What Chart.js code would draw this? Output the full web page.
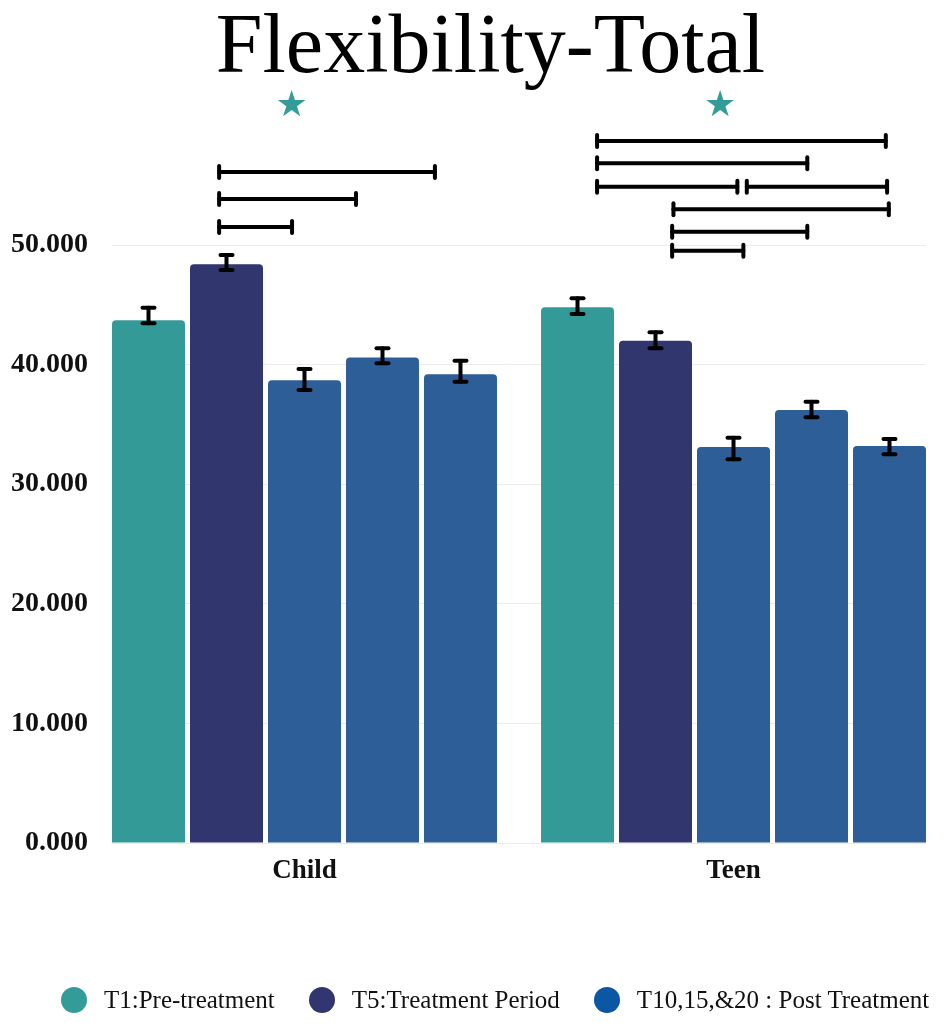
<!DOCTYPE html>
<html>
<head>
<meta charset="utf-8">
<script src="https://cdn.jsdelivr.net/npm/chart.js@4.4.1/dist/chart.umd.min.js"></script>
<style>
  html, body { margin: 0; padding: 0; background: #fff; }
  #wrap { position: relative; width: 945px; height: 1029px; }
  #title {
    position: absolute; left: 0; top: 2px; width: 945px; padding-left: 36px; box-sizing: border-box;
    text-align: center; font-family: 'Liberation Serif', serif; font-size: 84px; line-height: 84px; color: #000;
  }
  #legend {
    position: absolute; left: 0; top: 986px; width: 945px; height: 28px;
    display: flex; align-items: center; padding-left: 61px; box-sizing: border-box;
    font-family: 'Liberation Serif', serif; font-size: 25px; color: #111;
  }
  #legend .item { display: flex; align-items: center; margin-right: 34px; white-space: nowrap; }
  #legend .dot { width: 26px; height: 26px; border-radius: 50%; margin-right: 17px; }
</style>
</head>
<body>
<div id="wrap">
  <canvas id="flexChart"></canvas>
  <div id="title">Flexibility-Total</div>
  <div id="legend"></div>
</div>
<script>
// groups on the x axis
var groups = ['Child', 'Teen'];

// mean scores per time point (Child, Teen)
var meanT1 = [43.7, 44.8];
var meanT5 = [48.4, 42.0];
var meanT10 = [38.7, 33.1];
var meanT15 = [40.6, 36.2];
var meanT20 = [39.2, 33.2];

// error bar ends [low, high] (Child, Teen)
var errT1 = [[43.45, 44.76], [44.23, 45.54]];
var errT5 = [[47.91, 49.16], [41.36, 42.70]];
var errT10 = [[37.88, 39.63], [32.08, 33.89]];
var errT15 = [[40.11, 41.36], [35.59, 36.90]];
var errT20 = [[38.57, 40.33], [32.50, 33.78]];

var yTicks = [0, 10, 20, 30, 40, 50];

var seriesNames = ['T1:Pre-treatment', 'T5:Treatment Period', 'T10', 'T15', 'T20'];
var barColors = ['#349a97', '#32366e', '#2e5e98', '#2e5e98', '#2e5e98'];
var legendNames = ['T1:Pre-treatment', 'T5:Treatment Period', 'T10,15,&20 : Post Treatment'];
var legendColors = ['#349c98', '#313670', '#0b57a3'];

// significance brackets: [from, to, level] in axis units (0 = Child, 1 = Teen)
var bracketsChild = [[-0.199, -0.029, 51.5], [-0.199, 0.120, 53.85], [-0.199, 0.304, 56.1]];
var bracketsTeen = [[0.682, 1.355, 58.7], [0.682, 1.172, 56.83], [0.682, 1.009, 54.87],
                    [1.031, 1.358, 54.87], [0.860, 1.362, 52.98], [0.857, 1.172, 51.11],
                    [0.857, 1.023, 49.52]];
// stars: [x, level]
var stars = [[-0.03, 61.6], [0.969, 61.6]];

var means = [meanT1, meanT5, meanT10, meanT15, meanT20];
var errs = [errT1, errT5, errT10, errT15, errT20];

var datasets = means.map(function (vals, d) {
    return {
        label: seriesNames[d],
        data: vals.map(function (v, i) { return { x: i, y: v }; }),
        backgroundColor: barColors[d],
        borderWidth: 0,
        borderRadius: 4,
        borderSkipped: 'start',
        categoryPercentage: 0.909,
        barPercentage: 0.936
    };
});

// error bars, significance brackets and stars on top of the bars
var overlayPlugin = {
    id: 'overlay',
    afterDatasetsDraw: function (chart) {
        var ctx = chart.ctx;
        var xs = chart.scales.x, ys = chart.scales.y;

        function seg(x1, y1, x2, y2) {
            ctx.beginPath();
            ctx.moveTo(x1, y1);
            ctx.lineTo(x2, y2);
            ctx.stroke();
        }

        ctx.save();
        ctx.strokeStyle = '#000';
        ctx.lineWidth = 4;
        ctx.lineCap = 'round';

        errs.forEach(function (list, d) {
            var meta = chart.getDatasetMeta(d);
            list.forEach(function (e, i) {
                var x = meta.data[i].x;
                var lo = ys.getPixelForValue(e[0]);
                var hi = ys.getPixelForValue(e[1]);
                seg(x, lo, x, hi);
                seg(x - 6, lo, x + 6, lo);
                seg(x - 6, hi, x + 6, hi);
            });
        });

        bracketsChild.concat(bracketsTeen).forEach(function (b) {
            var x1 = xs.getPixelForValue(b[0]);
            var x2 = xs.getPixelForValue(b[1]);
            var y = ys.getPixelForValue(b[2]);
            seg(x1, y, x2, y);
            seg(x1, y - 6, x1, y + 6);
            seg(x2, y - 6, x2, y + 6);
        });

        ctx.fillStyle = '#349c98';
        ctx.font = '36px "DejaVu Sans"';
        ctx.textAlign = 'center';
        ctx.textBaseline = 'middle';
        stars.forEach(function (s) {
            ctx.fillText('\u2605', xs.getPixelForValue(s[0]), ys.getPixelForValue(s[1]));
        });
        ctx.restore();
    }
};

// legend below the chart
var legendBox = document.getElementById('legend');
legendNames.forEach(function (name, i) {
    var item = document.createElement('div');
    item.className = 'item';
    var dot = document.createElement('span');
    dot.className = 'dot';
    dot.style.background = legendColors[i];
    item.appendChild(dot);
    item.appendChild(document.createTextNode(name));
    legendBox.appendChild(item);
});

var ctx = document.getElementById('flexChart').getContext('2d');
var flexChart = new Chart(ctx, {
    type: 'bar',
    data: { datasets: datasets },
    plugins: [overlayPlugin],
    options: {
        responsive: true,
        maintainAspectRatio: false,
        animation: false,
        layout: { padding: { left: 10, right: 19, top: 245, bottom: 0 } },
        plugins: {
            title: { display: false },
            legend: { display: false },
            tooltip: { enabled: false }
        },
        scales: {
            x: {
                type: 'linear',
                offset: false,
                min: -0.4487,
                max: 1.4487,
                afterBuildTicks: function (scale) {
                    scale.ticks = groups.map(function (g, i) { return { value: i }; });
                },
                afterFit: function (scale) { scale.height = 186; },
                grid: { display: false },
                border: { display: false },
                ticks: {
                    autoSkip: false,
                    maxRotation: 0,
                    padding: 4,
                    color: '#111',
                    font: { family: 'Liberation Serif', size: 27, weight: 'bold' },
                    callback: function (v) { return groups[v]; }
                }
            },
            y: {
                min: yTicks[0],
                max: yTicks[yTicks.length - 1],
                afterBuildTicks: function (scale) {
                    scale.ticks = yTicks.map(function (v) { return { value: v }; });
                },
                afterFit: function (scale) { scale.width = 102; },
                grid: { color: '#ebebeb', drawTicks: false },
                border: { display: false },
                ticks: {
                    padding: 24,
                    color: '#111',
                    font: { family: 'Liberation Serif', size: 28, weight: 'bold' },
                    callback: function (v) { return v.toFixed(3); }
                }
            }
        }
    }
});
</script>
</body>
</html>
